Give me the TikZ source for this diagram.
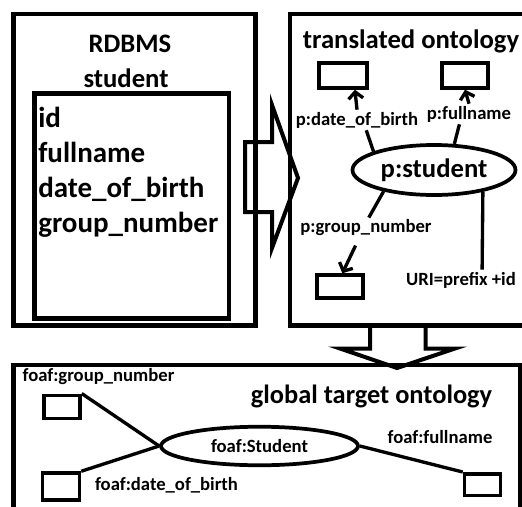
\documentclass[tikz,border=0pt]{standalone}
\usepackage{fontspec}
\setmainfont{Carlito}
\usepackage{tikz}
\usetikzlibrary{arrows.meta, shapes.geometric, positioning}

\begin{document}
\begin{tikzpicture}[x=0.75pt, y=-0.75pt,
    panel/.style={line width=3.4pt, line join=miter},
    bigarrow/.style={line width=3pt, line join=miter},
    slot/.style={draw, line width=2.6pt, inner sep=0pt},
    cls/.style={draw, ellipse, line width=2.8pt, inner sep=0pt},
    prop/.style={font=\fontsize{14}{16}\selectfont\bfseries, inner sep=1.5pt},
    title/.style={font=\fontsize{20}{24}\selectfont\bfseries, anchor=base, inner sep=0pt},
    col/.style={font=\fontsize{21.75}{26}\selectfont\bfseries, anchor=base west, inner sep=0pt},
    link/.style={line width=2.5pt},
    arr/.style={link, -{Straight Barb[length=5pt,width=11pt]}}]

\useasboundingbox (0,0) rectangle (522,507);
\clip (0,0) rectangle (522,507);

% RDBMS table
\draw[panel] (13.5,14) rectangle (255.5,325.5);
\draw[panel] (34.5,93.5) rectangle (229,318.5);
\node[title] (rdbms) at (130,52) {RDBMS};
\node[title] (tbl) at (126,87) {student};
\foreach \name/\txt [count=\i] in {id/id, fn/fullname, dob/date\_of\_birth, gn/group\_number}
    \node[col] (col-\name) at (38, 92+35*\i) {\txt};

% translation arrow
\draw[bigarrow] (245,142) -- (272,142) -- (272,105) -- (298,178)
    -- (272,248) -- (272,212) -- (245,212) -- cycle;

% translated ontology
\draw[panel] (290,14) rectangle (540,325.5);
\node[title] (tr) at (411,48) {translated ontology};
\node[cls, minimum width=122.25pt, minimum height=37.5pt,
      font=\fontsize{20}{24}\selectfont\bfseries] (stu) at (434,170) {p:student};
\node[slot, minimum width=36pt, minimum height=18.75pt] (r1) at (343,75.5) {};
\node[slot, minimum width=34.5pt, minimum height=18.75pt] (r2) at (465,75.5) {};
\node[slot, minimum width=34.5pt, minimum height=17.25pt] (r3) at (340,286.5) {};
\node[prop] (dobl) at (357,120) {p:date\_of\_birth};
\node[prop] (fnl) at (469,114) {p:fullname};
\node[prop] (gnl) at (366,228) {p:group\_number};
\node[prop] (uril) at (461,280) {URI=prefix +id};

\draw[link] (stu.163) -- (dobl.-48);
\draw[arr] (dobl.north) -- (r1.-50);
\draw[link] (stu.52) -- (fnl.-133);
\draw[arr] (fnl.north) -- (r2.south);
\draw[link] (stu.-157) -- (gnl.75);
\draw[arr, shorten <=6pt] (gnl.-124) -- (r3.80);
\draw[link] (stu.-24) -- (uril.26);

% merge arrow
\draw[bigarrow] (370,325) -- (370,348.5) -- (340,348.5) -- (397,368)
    -- (455,348.5) -- (425.5,348.5) -- (425.5,325);

% global target ontology
\draw[panel] (13.5,365) rectangle (520,540);
\node[title, font=\fontsize{19.8}{24}\selectfont\bfseries] (gto) at (371.5,403) {global target ontology};
\node[cls, minimum width=147.75pt, minimum height=28.9pt,
      font=\fontsize{14}{16}\selectfont\bfseries] (fst) at (259.5,446) {foaf:Student};
\node[slot, minimum width=27pt, minimum height=17.6pt] (b1) at (62,407) {};
\node[slot, minimum width=27.75pt, minimum height=20.25pt] (b2) at (61,486.5) {};
\node[slot, minimum width=27pt, minimum height=16.1pt] (b3) at (482.5,484.5) {};
\node[prop] (fgnl) at (98.5,377) {foaf:group\_number};
\node[prop] (fdobl) at (166.5,485) {foaf:date\_of\_birth};
\node[prop] (ffnl) at (440,437) {foaf:fullname};

\draw[link] (b1.north east) -- (fst.west);
\draw[link] (b2.north east) -- (fst.west);
\draw[link] (fst.east) -- (b3.north west);

\end{tikzpicture}
\end{document}
